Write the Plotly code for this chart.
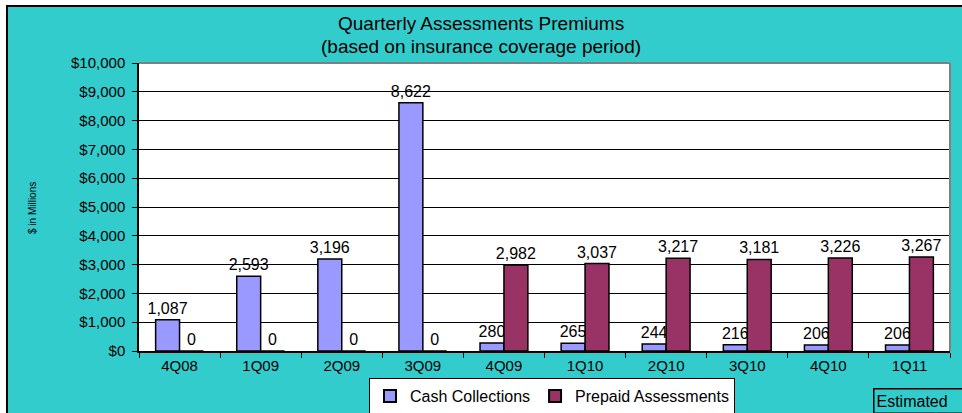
import plotly.graph_objects as go

quarters = ["4Q08", "1Q09", "2Q09", "3Q09", "4Q09", "1Q10", "2Q10", "3Q10", "4Q10", "1Q11"]
cash_collections = [1087, 2593, 3196, 8622, 280, 265, 244, 216, 206, 206]
prepaid_assessments = [0, 0, 0, 0, 2982, 3037, 3217, 3181, 3226, 3267]
y_ticks = list(range(0, 10001, 1000))
y_tick_labels = [f"${v:,}" for v in y_ticks]

W, H = 962, 413
ML, MR, MT, MB = 139, 12, 63, 62
PW, PH = W - ML - MR, H - MT - MB

def px_x(p):
    return (p - ML) / PW

def px_y(p):
    return (H - MB - p) / PH

CYAN = "#33CCCC"
FONT = "Liberation Sans, Arial, sans-serif"

fig = go.Figure()
fig.add_trace(go.Bar(
    name="Cash Collections", x=quarters, y=cash_collections,
    marker=dict(color="#9999FF", line=dict(color="black", width=1.5)),
    text=[f"{v:,}" for v in cash_collections], textposition="outside", constraintext="none",
    textfont=dict(size=16, color="black", family=FONT), cliponaxis=False,
))
fig.add_trace(go.Bar(
    name="Prepaid Assessments", x=quarters, y=prepaid_assessments,
    marker=dict(color="#993366", line=dict(color="black", width=1.5)),
    text=[f"{v:,}" for v in prepaid_assessments], textposition="outside", constraintext="none",
    textfont=dict(size=16, color="black", family=FONT), cliponaxis=False,
))

shapes = [
    dict(type="rect", xref="paper", yref="paper", x0=px_x(-5), x1=px_x(6), y0=px_y(420), y1=px_y(-5),
         fillcolor="white", line=dict(width=0), layer="below"),
    dict(type="rect", xref="paper", yref="paper", x0=px_x(-5), x1=px_x(970), y0=px_y(5), y1=px_y(-5),
         fillcolor="white", line=dict(width=0), layer="below"),
    dict(type="line", xref="paper", yref="paper", x0=px_x(7), x1=px_x(7), y0=px_y(5), y1=px_y(420),
         line=dict(color="black", width=2)),
    dict(type="line", xref="paper", yref="paper", x0=px_x(6), x1=px_x(970), y0=px_y(6), y1=px_y(6),
         line=dict(color="black", width=2)),
    dict(type="line", xref="paper", yref="paper", x0=0, x1=1, y0=1, y1=1,
         line=dict(color="#808080", width=2)),
    dict(type="line", xref="paper", yref="paper", x0=1, x1=1, y0=0, y1=1,
         line=dict(color="#808080", width=2)),
]

annotations = [
    dict(text="Quarterly Assessments Premiums", xref="paper", yref="paper",
         x=px_x(481), y=px_y(23), xanchor="center", yanchor="middle", showarrow=False,
         font=dict(size=19, color="black", family=FONT)),
    dict(text="(based on insurance coverage period)", xref="paper", yref="paper",
         x=px_x(481), y=px_y(47), xanchor="center", yanchor="middle", showarrow=False,
         font=dict(size=19, color="black", family=FONT)),
    dict(text="$ in Millions", xref="paper", yref="paper", textangle=-90,
         x=px_x(32), y=px_y(208), xanchor="center", yanchor="middle", showarrow=False,
         font=dict(size=10, color="black", family=FONT)),
    dict(text="Estimated", xref="paper", yref="paper",
         x=px_x(873), y=px_y(388), xanchor="left", yanchor="top", showarrow=False,
         width=100, height=19, align="left", bordercolor="black", borderwidth=1.5, borderpad=2,
         font=dict(size=16, color="black", family=FONT)),
]

fig.update_layout(
    width=W, height=H,
    margin=dict(l=ML, r=MR, t=MT, b=MB, autoexpand=False),
    paper_bgcolor=CYAN, plot_bgcolor="white",
    barmode="group", bargap=0.41, bargroupgap=0,
    font=dict(family=FONT, color="black"),
    showlegend=True,
    legend=dict(orientation="h", x=px_x(552), xanchor="center", y=px_y(378), yanchor="top",
                bgcolor="white", bordercolor="black", borderwidth=1,
                font=dict(size=16, color="black", family=FONT),
                itemsizing="constant", itemwidth=30, tracegroupgap=0),
    shapes=shapes, annotations=annotations,
)
fig.update_xaxes(
    showline=True, linecolor="black", linewidth=1.5, ticks="outside", tickson="boundaries",
    ticklen=5, tickcolor="black", tickfont=dict(size=15, color="black", family=FONT),
    showgrid=False, mirror=False,
)
fig.update_yaxes(
    range=[0, 10000], tickvals=y_ticks, ticktext=y_tick_labels,
    showline=True, linecolor="black", linewidth=1.5, ticks="outside", ticklen=5, tickcolor="black",
    ticklabelstandoff=4,
    tickfont=dict(size=15, color="black", family=FONT),
    showgrid=True, gridcolor="black", gridwidth=1, zeroline=False,
)

fig.write_html("out.html", config={"displayModeBar": False},
               post_script="document.body.style.margin='0';document.body.style.overflow='hidden';")
